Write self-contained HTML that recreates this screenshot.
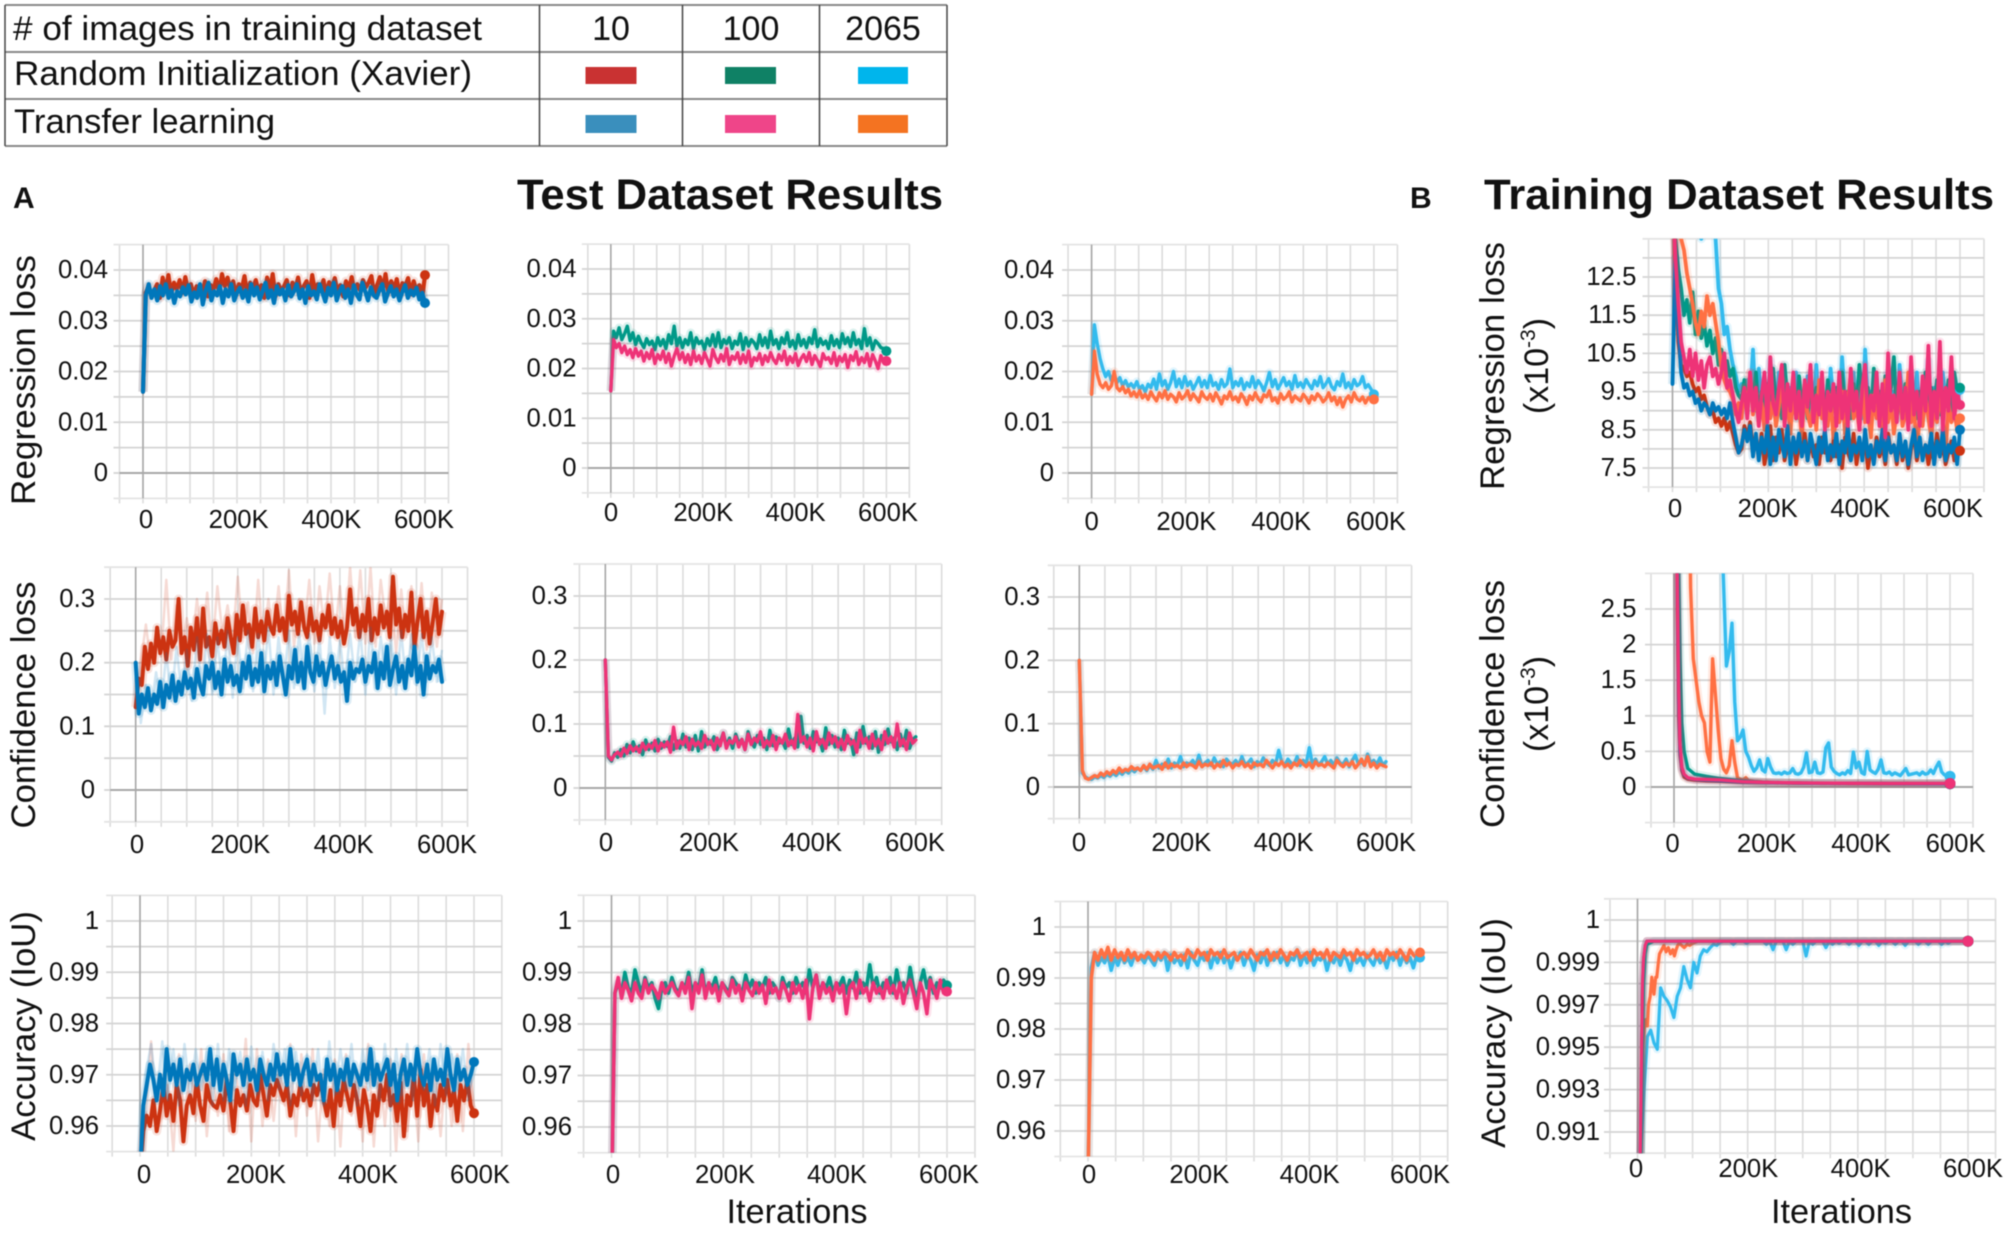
<!DOCTYPE html>
<html lang="en">
<head>
<meta charset="utf-8">
<title>Test and training dataset results</title>
<style>
  html, body { margin: 0; padding: 0; background: #fff; }
  #figure { display: block; width: 2008px; height: 1240px; font-family: "Liberation Sans", Arial, sans-serif; fill: #111; filter: blur(0.45px); }
  text { font-family: "Liberation Sans", Arial, sans-serif; }
</style>
</head>
<body>
<svg id="figure" xmlns="http://www.w3.org/2000/svg" width="2008" height="1240" viewBox="0 0 2008 1240">
  <rect width="2008" height="1240" fill="#fff"/>

  <g>
    <g stroke="#8a8a8a" stroke-width="2">
      <line x1="5" y1="5" x2="947" y2="5"/>
      <line x1="5" y1="52" x2="947" y2="52"/>
      <line x1="5" y1="99" x2="947" y2="99"/>
      <line x1="5" y1="146" x2="947" y2="146"/>
    </g>
    <g stroke="#444" stroke-width="1.5">
      <line x1="5" y1="5" x2="5" y2="146"/>
      <line x1="539.5" y1="5" x2="539.5" y2="146"/>
      <line x1="682.5" y1="5" x2="682.5" y2="146"/>
      <line x1="819.5" y1="5" x2="819.5" y2="146"/>
      <line x1="947" y1="5" x2="947" y2="146"/>
    </g>
    <text x="13" y="40" font-size="34.5" textLength="469" lengthAdjust="spacingAndGlyphs"># of images in training dataset</text>
    <text x="611" y="40" font-size="34" text-anchor="middle">10</text>
    <text x="751" y="40" font-size="34" text-anchor="middle">100</text>
    <text x="883" y="40" font-size="34" text-anchor="middle">2065</text>
    <text x="14" y="85" font-size="34.5" textLength="458" lengthAdjust="spacingAndGlyphs">Random Initialization (Xavier)</text>
    <text x="14" y="133" font-size="34.5" textLength="261" lengthAdjust="spacingAndGlyphs">Transfer learning</text>
    <rect x="585.5" y="67" width="51" height="17" fill="#c93232"/>
    <rect x="725" y="67" width="51" height="17" fill="#0f8165"/>
    <rect x="858" y="67" width="50" height="17" fill="#00b5ec"/>
    <rect x="585.5" y="115" width="51" height="18" fill="#3a8fbd"/>
    <rect x="725" y="115" width="51" height="18" fill="#ef4589"/>
    <rect x="858" y="115" width="50" height="18" fill="#f47321"/>
  </g>

  <text x="13" y="208" font-size="30" font-weight="bold">A</text>
  <text x="517" y="209" font-size="43" font-weight="bold" textLength="426" lengthAdjust="spacingAndGlyphs">Test Dataset Results</text>
  <text x="1410" y="208" font-size="30" font-weight="bold">B</text>
  <text x="1484" y="209" font-size="43" font-weight="bold" textLength="510" lengthAdjust="spacingAndGlyphs">Training Dataset Results</text>

  <text transform="rotate(-90 35 380)" x="35" y="380" font-size="34.5" text-anchor="middle" textLength="250" lengthAdjust="spacingAndGlyphs">Regression loss</text>
  <text transform="rotate(-90 35 705)" x="35" y="705" font-size="34.5" text-anchor="middle" textLength="247" lengthAdjust="spacingAndGlyphs">Confidence loss</text>
  <text transform="rotate(-90 35 1026)" x="35" y="1026" font-size="34" text-anchor="middle" textLength="230" lengthAdjust="spacingAndGlyphs">Accuracy (IoU)</text>

  <text transform="rotate(-90 1504 366)" x="1504" y="366" font-size="34.5" text-anchor="middle" textLength="248" lengthAdjust="spacingAndGlyphs">Regression loss</text>
  <text transform="rotate(-90 1548 366)" x="1548" y="366" font-size="34" text-anchor="middle">(x10<tspan font-size="21" dy="-13">-3</tspan><tspan dy="13">)</tspan></text>
  <text transform="rotate(-90 1504 704)" x="1504" y="704" font-size="34.5" text-anchor="middle" textLength="248" lengthAdjust="spacingAndGlyphs">Confidence loss</text>
  <text transform="rotate(-90 1548 704)" x="1548" y="704" font-size="34" text-anchor="middle">(x10<tspan font-size="21" dy="-13">-3</tspan><tspan dy="13">)</tspan></text>
  <text transform="rotate(-90 1505 1033)" x="1505" y="1033" font-size="34" text-anchor="middle" textLength="230" lengthAdjust="spacingAndGlyphs">Accuracy (IoU)</text>

  <text x="726.5" y="1223" font-size="34" textLength="141" lengthAdjust="spacingAndGlyphs">Iterations</text>
  <text x="1771" y="1223" font-size="34" textLength="141" lengthAdjust="spacingAndGlyphs">Iterations</text>

  <g id="panels"></g>
</svg>

<script>
// ---------- axis ticks ----------
const xTickValues = [0, 200000, 400000, 600000];
const xTickLabels = ["0", "200K", "400K", "600K"];
const regTicks = [0, 0.01, 0.02, 0.03, 0.04];
const regLabels = ["0", "0.01", "0.02", "0.03", "0.04"];
const confTicks = [0, 0.1, 0.2, 0.3];
const confLabels = ["0", "0.1", "0.2", "0.3"];
const accTicks = [0.96, 0.97, 0.98, 0.99, 1];
const accLabels = ["0.96", "0.97", "0.98", "0.99", "1"];
const trainRegTicks = [7.5, 8.5, 9.5, 10.5, 11.5, 12.5];
const trainRegLabels = ["7.5", "8.5", "9.5", "10.5", "11.5", "12.5"];
const trainConfTicks = [0, 0.5, 1, 1.5, 2, 2.5];
const trainConfLabels = ["0", "0.5", "1", "1.5", "2", "2.5"];
const trainAccTicks = [0.991, 0.993, 0.995, 0.997, 0.999, 1.001];
const trainAccLabels = ["0.991", "0.993", "0.995", "0.997", "0.999", "1"];

// ---------- iteration grids for unevenly sampled series (thousands of iterations) ----------
const confFastIters = [0,4,7,10,13,17,22,30,45,70,100,150,200,300,450,600];
const accFastIters = [0,5,7,9,11,14,17,30,600];
const accOrangeIters = [0,6,8,10,12,15,18,20,23,26,30,33,35,38,40,44,48,52,56,60,64,67,70,73,76,80,85,90,95,100,110,130,600];

// ---------- test: regression loss (x1e-4) ----------
const regTest10Xavier = [160,355,368,352,360,372,345,385,358,390,352,375,362,380,355,386,360,372,350,368,358,352,378,348,370,362,382,355,392,368,385,360,378,350,372,362,388,352,375,365,380,358,370,345,385,360,392,348,372,358,368,380,350,375,362,385,352,368,378,345,390,358,372,362,380,350,376,365,384,355,370,348,378,362,386,355,372,360,380,366,375,388,352,370,386,360,392,355,378,362,382,350,374,368,384,352,378,358,370,345,390];
const regTest10Transfer = [160,350,372,345,362,340,368,350,372,345,360,335,358,348,366,352,370,338,356,345,372,332,360,375,340,358,350,368,335,362,348,372,340,355,365,345,360,338,372,350,366,342,358,375,345,360,335,368,352,362,340,370,348,358,372,344,362,335,368,350,358,342,372,355,338,365,350,375,340,358,368,345,362,335,370,352,342,375,358,340,366,350,345,360,372,338,355,368,348,362,340,356,370,345,360,350,365,342,355,335];
const regTest100Xavier = [155,275,262,282,258,270,285,256,272,248,265,252,242,260,248,255,238,262,246,258,240,268,250,285,245,262,242,258,248,272,240,262,250,255,238,260,246,268,244,272,242,258,250,262,240,255,248,270,238,262,245,258,252,240,268,246,262,242,275,248,258,240,262,250,272,244,256,240,268,246,258,242,262,250,278,244,260,248,255,240,266,246,258,242,270,250,262,244,272,248,258,240,280,246,262,238,256,250,242,240,235];
const regTest100Transfer = [155,258,242,250,232,245,228,238,222,240,225,235,215,232,220,238,210,228,218,235,212,230,205,225,240,218,232,212,228,208,235,215,226,210,232,218,205,238,222,212,228,215,240,208,225,218,232,210,228,212,235,205,222,216,230,208,226,214,232,218,210,228,216,235,208,224,212,230,206,220,228,214,232,208,226,216,204,230,218,222,210,232,206,224,214,228,202,226,216,234,208,222,212,230,205,228,215,200,226,212,215];
const regTest2065Xavier = [155,292,255,225,205,190,200,182,195,178,188,172,182,170,176,168,180,165,172,160,175,168,185,165,195,172,182,165,178,200,170,185,168,190,172,180,165,176,188,170,182,168,192,172,178,165,184,170,176,205,168,180,172,186,165,178,170,190,168,182,174,162,178,198,170,184,166,176,188,172,180,165,192,170,178,168,184,174,166,182,172,190,168,176,186,170,164,180,172,195,168,178,166,184,172,176,190,168,174,165,155];
const regTest2065Transfer = [155,240,195,175,168,178,165,172,200,168,162,170,158,165,152,160,150,162,148,155,145,160,150,142,158,148,162,145,155,150,140,158,146,152,162,144,156,148,140,160,150,145,155,142,158,148,136,152,146,160,144,150,140,156,148,135,152,144,158,146,140,154,150,162,142,148,138,156,145,150,160,140,152,146,142,155,148,138,152,144,156,150,140,146,158,142,150,135,148,130,145,152,140,158,146,142,150,138,148,152,145];

// ---------- test: confidence loss (x1e-3) ----------
const confTest10Xavier = [130,175,165,225,190,230,200,255,215,240,205,250,225,235,300,215,240,195,255,220,270,205,285,225,240,210,262,230,250,225,270,240,215,275,235,290,245,260,225,285,240,265,235,280,255,245,290,250,270,235,305,260,280,245,295,255,240,285,250,265,235,275,255,290,245,270,240,265,230,255,315,260,285,240,275,250,300,235,270,245,290,255,280,240,335,260,285,240,275,250,310,225,265,300,240,280,230,265,300,245,280];
const confTest10XavierRaw = [130,200,260,195,250,210,330,205,290,215,270,225,300,225,310,220,320,245,290,235,335,240,295,215,330,230,300,240,320,235,345,225,300,250,330,230,320,250,340,240,320,235,350,240,345,230,350,225,330,265,320,215,315,240,320,225,325,220,310,225,300];
const confTest10Transfer = [200,120,150,130,160,125,150,135,170,130,165,145,180,140,170,150,185,160,175,145,190,165,150,195,175,200,160,185,150,205,170,195,165,180,155,200,175,210,165,190,170,215,155,195,175,200,165,210,180,150,195,175,220,170,200,160,225,185,170,210,180,200,165,190,210,175,195,170,185,140,200,175,190,185,205,170,195,185,215,160,200,175,225,165,190,210,170,195,160,205,180,225,170,195,150,210,175,195,185,205,170];
const confTest10TransferRaw = [200,105,165,125,185,130,215,140,225,150,220,140,240,155,245,150,240,150,250,145,240,160,250,155,245,165,255,150,240,165,250,160,245,170,245,155,240,120,240,160,235,165,245,170,250,150,255,160,240,175,240,150,250,160,245,165,245,170,240,170,220];
const confTest100Xavier = [200,48,42,55,48,60,50,68,55,72,58,66,52,75,60,70,58,76,62,72,65,80,60,74,62,84,64,78,60,82,58,88,64,76,68,80,60,72,86,66,78,62,84,70,76,60,88,72,64,82,68,78,60,90,66,80,70,74,62,92,68,78,64,112,70,82,62,88,72,76,58,94,68,82,64,78,60,90,70,76,52,86,64,96,70,80,62,88,56,82,68,92,72,78,60,84,66,90,62,76,80];
const confTest100Transfer = [200,50,44,52,56,50,62,54,66,58,64,56,70,60,68,62,74,58,70,64,72,56,95,62,74,68,80,60,76,66,72,62,82,68,74,60,78,66,86,62,74,70,80,64,76,60,84,68,78,72,88,64,74,66,82,60,78,70,84,66,74,62,115,72,80,64,78,58,88,68,76,62,86,70,80,64,76,60,82,68,74,56,90,70,78,62,84,66,76,60,88,70,80,64,100,66,76,60,86,70,75];
const confTest2065Xavier = [200,22,16,13,12,16,14,18,15,20,17,22,18,24,20,26,22,28,24,30,26,32,26,34,28,42,30,36,32,44,30,38,34,48,32,38,36,42,34,50,32,38,42,34,46,36,40,32,44,38,36,42,34,48,36,38,44,32,40,36,46,38,34,42,36,58,40,34,44,38,36,48,34,42,38,62,36,44,34,40,48,36,42,34,46,38,36,44,32,42,50,36,40,34,52,38,42,36,46,34,40];
const confTest2065Transfer = [200,26,14,12,15,18,16,22,18,24,20,26,22,30,24,28,26,32,28,30,26,34,28,36,30,32,34,28,38,30,36,32,34,30,38,32,36,34,30,40,32,36,34,38,30,36,32,42,34,38,30,36,34,40,32,36,30,38,34,36,32,42,36,30,38,34,40,32,36,30,38,34,42,36,32,38,30,40,34,36,32,38,34,30,42,36,32,38,34,40,30,36,44,34,48,32,38,30,36,34,32];

// ---------- test: accuracy (x1e-4) ----------
const accTest10Xavier = [9500,9590,9620,9600,9650,9590,9630,9680,9620,9660,9610,9680,9650,9570,9640,9660,9625,9690,9640,9610,9680,9650,9640,9635,9660,9630,9690,9650,9590,9670,9640,9660,9630,9680,9650,9640,9700,9660,9620,9680,9660,9690,9670,9650,9680,9620,9660,9640,9680,9650,9670,9640,9680,9660,9690,9650,9620,9670,9600,9680,9640,9690,9660,9630,9680,9650,9600,9670,9640,9590,9660,9620,9680,9650,9700,9640,9660,9610,9685,9580,9660,9640,9700,9620,9710,9640,9680,9600,9660,9630,9680,9650,9690,9640,9670,9610,9680,9650,9690,9640,9625];
const accTest10XavierRaw = [9550,9620,9765,9590,9620,9680,9550,9740,9590,9720,9610,9750,9580,9700,9620,9740,9590,9720,9640,9770,9570,9750,9600,9730,9610,9720,9640,9760,9580,9740,9620,9750,9570,9710,9600,9730,9560,9740,9620,9710,9570,9760,9560,9720,9600,9730,9550,9740,9590,9700,9570,9740,9620,9700,9580,9720,9600,9740,9590,9760,9625];
const accTest10Transfer = [9500,9640,9680,9720,9690,9650,9700,9660,9750,9690,9720,9680,9730,9670,9710,9690,9720,9680,9700,9720,9690,9750,9680,9730,9670,9720,9690,9650,9740,9700,9720,9680,9730,9690,9710,9670,9730,9700,9680,9720,9690,9740,9700,9720,9680,9750,9690,9720,9680,9710,9730,9680,9720,9690,9700,9650,9730,9690,9720,9670,9710,9690,9730,9680,9720,9700,9680,9720,9690,9750,9680,9720,9690,9710,9730,9680,9720,9650,9700,9730,9680,9720,9690,9750,9700,9680,9720,9670,9730,9690,9710,9680,9750,9700,9670,9730,9690,9710,9680,9700,9725];
const accTest10TransferRaw = [9550,9700,9760,9660,9765,9650,9750,9640,9760,9660,9750,9670,9745,9640,9760,9650,9750,9670,9745,9640,9755,9660,9745,9650,9760,9670,9750,9640,9745,9660,9740,9650,9750,9640,9765,9660,9750,9670,9760,9640,9750,9670,9745,9650,9760,9630,9750,9660,9760,9650,9745,9670,9750,9640,9760,9660,9740,9670,9750,9650,9725];
const accTest100Xavier = [9450,9860,9880,9860,9900,9870,9860,9905,9880,9860,9890,9870,9880,9850,9830,9870,9880,9860,9890,9870,9860,9880,9870,9900,9860,9880,9870,9905,9860,9880,9870,9890,9860,9880,9870,9860,9890,9880,9870,9860,9895,9870,9885,9860,9880,9870,9890,9860,9880,9870,9850,9890,9870,9880,9860,9890,9870,9880,9860,9905,9870,9895,9860,9880,9870,9890,9860,9880,9875,9890,9860,9885,9870,9900,9860,9880,9870,9915,9870,9890,9860,9880,9870,9890,9860,9905,9870,9880,9860,9910,9870,9850,9880,9905,9870,9890,9860,9880,9870,9885,9875];
const accTest100Transfer = [9450,9860,9890,9850,9880,9865,9845,9880,9860,9850,9885,9860,9875,9865,9850,9880,9860,9870,9880,9865,9855,9880,9860,9890,9830,9880,9860,9895,9850,9880,9860,9875,9845,9880,9865,9855,9885,9860,9875,9845,9880,9865,9855,9880,9860,9875,9840,9885,9860,9870,9850,9880,9865,9845,9880,9860,9875,9850,9885,9810,9870,9895,9850,9880,9860,9870,9845,9880,9860,9875,9820,9870,9880,9850,9885,9860,9870,9845,9880,9860,9870,9850,9885,9860,9875,9850,9880,9840,9870,9885,9860,9830,9880,9860,9820,9885,9870,9850,9885,9860,9863];
const accTest2065Xavier = [9500,9920,9950,9925,9940,9930,9945,9915,9940,9925,9945,9930,9940,9925,9945,9935,9940,9930,9945,9935,9925,9945,9935,9950,9915,9945,9930,9940,9925,9945,9920,9950,9935,9925,9945,9935,9950,9920,9945,9930,9950,9930,9945,9920,9940,9935,9950,9925,9945,9935,9915,9945,9930,9950,9925,9945,9935,9950,9930,9945,9925,9940,9935,9955,9925,9945,9930,9950,9925,9940,9935,9945,9915,9940,9930,9945,9925,9945,9935,9915,9945,9930,9940,9925,9945,9935,9925,9945,9930,9940,9920,9945,9935,9950,9925,9945,9930,9940,9920,9945,9940];
const accTest2065Transfer = [9500,9900,9950,9935,9955,9940,9960,9935,9955,9940,9950,9935,9955,9940,9950,9935,9945,9940,9950,9945,9935,9950,9940,9950,9945,9935,9950,9940,9945,9935,9955,9945,9940,9955,9945,9950,9935,9955,9945,9950,9940,9955,9940,9945,9950,9935,9945,9950,9940,9955,9945,9935,9950,9945,9955,9935,9950,9940,9955,9945,9935,9950,9945,9955,9940,9945,9950,9935,9955,9945,9950,9940,9955,9935,9950,9945,9940,9955,9945,9950,9935,9955,9945,9950,9940,9945,9955,9940,9950,9935,9955,9945,9950,9940,9955,9945,9935,9955,9945,9940,9950];

// ---------- training: regression loss (x1e-5) ----------
const regTrain10Xavier = [1600,1250,1080,1020,1010,990,1000,970,950,960,930,940,910,890,900,870,880,860,880,850,870,840,810,790,800,860,830,870,800,820,780,840,760,800,860,770,830,790,850,770,810,780,830,760,810,790,840,770,820,780,810,760,830,790,800,770,820,780,810,750,830,790,770,840,760,810,780,820,750,800,770,830,780,810,760,840,790,810,760,830,770,810,750,800,840,770,820,780,810,760,800,770,840,780,810,760,790,820,770,810,795];
const regTrain10Transfer = [970,1300,1120,1000,960,970,940,950,920,930,900,920,910,890,920,900,910,890,905,880,920,870,830,790,810,850,820,860,780,840,770,830,790,860,760,830,770,850,810,780,860,760,830,790,840,780,820,770,840,800,760,830,790,850,770,810,780,840,760,820,790,860,770,810,790,830,770,850,780,810,760,820,790,850,770,830,790,810,770,840,780,820,760,810,850,780,830,770,810,790,840,760,820,780,850,770,810,790,830,760,850];
const regTrain100Xavier = [1500,1350,1270,1220,1150,1190,1130,1210,1100,1160,1090,1130,1070,1110,1050,1090,1020,1060,1000,1030,990,1010,960,940,930,980,900,970,920,1000,880,950,910,970,890,1010,920,960,880,1020,930,900,960,880,990,920,950,880,1000,910,960,890,940,870,980,920,900,960,880,1000,910,950,880,970,900,1020,930,890,960,880,1010,920,950,880,990,910,960,1040,880,940,900,970,890,1000,920,880,950,900,1000,880,960,910,980,890,950,920,980,880,1000,950,960];
const regTrain100Transfer = [1500,1300,1180,1080,1040,1000,1060,990,1050,980,1030,960,1020,1040,990,1010,970,1000,1050,960,980,940,900,870,920,960,880,1000,900,960,860,940,1000,870,1040,920,890,960,1020,860,970,900,1000,880,950,860,980,910,1020,870,940,890,1000,850,950,900,970,860,1000,880,950,860,1010,900,950,850,960,1020,870,940,900,1000,860,970,830,1050,900,940,870,1000,880,960,850,1040,890,950,860,990,900,1070,860,950,880,1080,850,960,900,1040,880,950,915];
const regTrain2065Xavier = [1700,1800,1750,1500,1700,1600,1400,1700,1500,1750,1350,1700,1500,1450,1400,1350,1220,1180,1100,1120,1060,1020,990,950,970,920,980,940,1060,900,1010,930,970,910,1030,950,890,1000,930,970,900,960,920,1000,880,950,910,990,930,880,1020,900,960,920,880,1010,930,960,890,1040,920,950,890,1000,910,970,880,1060,920,950,900,990,870,960,920,1000,900,950,880,1020,930,960,890,970,920,1000,880,950,910,1030,900,960,870,940,1000,920,960,900,980,920,955];
const regTrain2065Transfer = [1500,1450,1400,1350,1320,1260,1220,1180,1130,1100,1160,1120,1200,1150,1180,1130,1080,1010,980,960,950,930,890,920,880,960,900,1000,890,940,870,920,850,960,880,930,860,910,980,870,920,840,950,880,910,830,960,890,860,930,850,980,880,910,860,940,820,900,870,950,840,920,1000,880,910,850,960,870,900,830,940,880,910,850,980,870,920,840,900,960,860,890,1000,870,910,780,900,860,940,880,830,910,870,950,880,790,920,870,900,850,880];

// ---------- training: confidence loss (x1e-6) ----------
const confTrain10Xavier = [8000,5000,2600,1000,450,230,140,110,95,85,80,65,60,52,48,46];
const confTrain10Transfer = [8000,5500,3000,1200,500,260,170,125,105,95,88,70,60,52,48,45];
const confTrain100Xavier = [8000,7000,5000,3000,1800,900,500,260,180,150,120,85,65,55,50,48];
const confTrain100Transfer = [8000,6000,3000,1400,600,280,180,130,110,105,100,75,65,55,50,50];
const confTrain2065Xavier = [8000,8000,8000,8000,8000,8000,8000,8000,8000,8000,8000,8000,8000,8000,8000,8000,8000,4000,2800,1700,1900,2300,1200,650,700,800,500,420,300,220,270,380,240,210,400,280,200,190,200,180,210,190,200,260,190,180,200,280,480,200,210,350,200,190,210,550,620,280,220,190,170,200,180,230,190,490,270,350,200,180,500,240,210,190,250,380,200,190,210,170,200,180,160,210,260,170,180,190,200,170,210,180,190,240,190,280,350,210,170,150,150];
const confTrain2065Transfer = [8000,8000,8000,8000,8000,6000,2800,1800,1500,1200,1000,900,500,350,1800,1300,800,400,250,200,300,650,350,130,110,100,130,90,85,80,78,75,70,68,70,65,62,60,62,58,60,58,60,56,55,58,55,54,55,52,54,52,55,50,52,50,54,50,52,50,48,52,50,48,50,48,50,48,52,50,48,50,48,50,46,48,50,48,46,48,50,46,48,46,50,48,46,48,46,48,50,46,48,46,48,46,48,46,48,46,48];

// ---------- training: accuracy (x1e-5) ----------
const accTrain10Xavier = [98700,98900,99300,99750,99900,99970,100000,100000,100000];
const accTrain10Transfer = [98700,98950,99350,99780,99910,99975,100000,100000,100000];
const accTrain100Xavier = [98600,98700,99100,99500,99800,99940,99985,100000,100000];
const accTrain100Transfer = [98700,99000,99400,99800,99920,99980,100000,100000,100000];
const accTrain2065Xavier = [98700,99000,99300,99550,99580,99520,99490,99780,99740,99720,99690,99640,99740,99780,99880,99820,99780,99900,99850,99930,99960,99950,99970,99985,99980,99995,100000,100000,100000,99985,100000,100000,100000,99990,100000,100000,100000,100000,100000,99985,100000,99960,100000,100000,100000,99960,100000,99985,100000,100000,100000,99930,100000,99985,100000,100000,100000,99970,100000,99985,100000,99990,100000,100000,99985,100000,100000,99980,100000,100000,99985,100000,100000,99980,100000,99990,100000,100000,99985,100000,100000,99980,100000,100000,100000,99985,100000,100000,99985,100000,100000,100000,99985,100000,99990,100000,100000,100000,100000,100000,100000];
const accTrain2065Transfer = [98700,99000,99300,99500,99580,99630,99600,99700,99740,99830,99750,99830,99830,99900,99940,99960,99980,99950,99970,99940,99960,99930,99960,99980,99990,99980,99970,99985,99980,99990,100000,100000,100000];

// ---------- colours ----------
const RED = "#cc3311", BLUE = "#0077bb", TEAL = "#009988", PINK = "#ee3377", CYAN = "#33bbee", ORANGE = "#ff7043";

// ---------- panels: layout anchors + references to the arrays above ----------
const panels = [
  { name: "test-regression-10", x0: 143, x600: 425, yA: 0, pA: 473, yB: 0.04, pB: 270, yMin: -0.005, yMax: 0.045, step: 0.005, ticks: regTicks, labels: regLabels, tickRight: 108, xBase: 528, lab0: 146, lab600: 424, width: 4.2, markerR: 5, zero: true,
    series: [ { name: "xavier-10", color: RED, unit: 1e-4, values: regTest10Xavier }, { name: "transfer-10", color: BLUE, unit: 1e-4, values: regTest10Transfer } ] },
  { name: "test-regression-100", x0: 610.8, x600: 886.4, yA: 0, pA: 468, yB: 0.04, pB: 269, yMin: -0.005, yMax: 0.045, step: 0.005, ticks: regTicks, labels: regLabels, tickRight: 576.5, xBase: 521, lab0: 611, lab600: 888, width: 3.4, markerR: 5, zero: true,
    series: [ { name: "xavier-100", color: TEAL, unit: 1e-4, values: regTest100Xavier }, { name: "transfer-100", color: PINK, unit: 1e-4, values: regTest100Transfer } ] },
  { name: "test-regression-2065", x0: 1091.6, x600: 1373.9, yA: 0, pA: 473, yB: 0.04, pB: 270, yMin: -0.005, yMax: 0.045, step: 0.005, ticks: regTicks, labels: regLabels, tickRight: 1054, xBase: 530, lab0: 1091.6, lab600: 1376, width: 3.4, markerR: 5, zero: true,
    series: [ { name: "xavier-2065", color: CYAN, unit: 1e-4, values: regTest2065Xavier }, { name: "transfer-2065", color: ORANGE, unit: 1e-4, values: regTest2065Transfer } ] },

  { name: "test-confidence-10", x0: 135.7, x600: 442, yA: 0, pA: 790, yB: 0.3, pB: 599, yMin: -0.05, yMax: 0.35, step: 0.05, ticks: confTicks, labels: confLabels, tickRight: 95, xBase: 853, lab0: 137, lab600: 447, width: 4, zero: true, noMarker: true,
    series: [ { name: "xavier-10", color: RED, unit: 1e-3, values: confTest10Xavier, raw: confTest10XavierRaw }, { name: "transfer-10", color: BLUE, unit: 1e-3, values: confTest10Transfer, raw: confTest10TransferRaw } ] },
  { name: "test-confidence-100", x0: 605.3, x600: 915.8, yA: 0, pA: 788, yB: 0.3, pB: 596, yMin: -0.05, yMax: 0.35, step: 0.05, ticks: confTicks, labels: confLabels, tickRight: 567.4, xBase: 851, lab0: 606, lab600: 915, width: 3.4, zero: true, noMarker: true,
    series: [ { name: "xavier-100", color: TEAL, unit: 1e-3, values: confTest100Xavier }, { name: "transfer-100", color: PINK, unit: 1e-3, values: confTest100Transfer } ] },
  { name: "test-confidence-2065", x0: 1079.3, x600: 1386, yA: 0, pA: 787, yB: 0.3, pB: 597, yMin: -0.05, yMax: 0.35, step: 0.05, ticks: confTicks, labels: confLabels, tickRight: 1040, xBase: 851, lab0: 1079, lab600: 1386, width: 3.4, zero: true, noMarker: true,
    series: [ { name: "xavier-2065", color: CYAN, unit: 1e-3, values: confTest2065Xavier }, { name: "transfer-2065", color: ORANGE, unit: 1e-3, values: confTest2065Transfer } ] },

  { name: "test-accuracy-10", x0: 140, x600: 474, yA: 1, pA: 921, yB: 0.96, pB: 1126, yMin: 0.955, yMax: 1.005, step: 0.005, ticks: accTicks, labels: accLabels, tickRight: 99, xBase: 1183, lab0: 144, lab600: 480, width: 4, markerR: 5, zero: false,
    series: [ { name: "xavier-10", color: RED, unit: 1e-4, values: accTest10Xavier, raw: accTest10XavierRaw }, { name: "transfer-10", color: BLUE, unit: 1e-4, values: accTest10Transfer, raw: accTest10TransferRaw } ] },
  { name: "test-accuracy-100", x0: 611.5, x600: 947, yA: 1, pA: 921, yB: 0.96, pB: 1127, yMin: 0.955, yMax: 1.005, step: 0.005, ticks: accTicks, labels: accLabels, tickRight: 572, xBase: 1183, lab0: 613, lab600: 949, width: 3.6, markerR: 5, zero: false,
    series: [ { name: "xavier-100", color: TEAL, unit: 1e-4, values: accTest100Xavier }, { name: "transfer-100", color: PINK, unit: 1e-4, values: accTest100Transfer } ] },
  { name: "test-accuracy-2065", x0: 1088, x600: 1420, yA: 1, pA: 927, yB: 0.96, pB: 1131, yMin: 0.955, yMax: 1.005, step: 0.005, ticks: accTicks, labels: accLabels, tickRight: 1046, xBase: 1183, lab0: 1089, lab600: 1420, width: 3.6, markerR: 5, zero: false,
    series: [ { name: "xavier-2065", color: CYAN, unit: 1e-4, values: accTest2065Xavier }, { name: "transfer-2065", color: ORANGE, unit: 1e-4, values: accTest2065Transfer } ] },

  { name: "train-regression", x0: 1672.5, x600: 1960, yA: 12.5, pA: 277, yB: 7.5, pB: 468, yMin: 7, yMax: 13.5, step: 0.5, ticks: trainRegTicks, labels: trainRegLabels, tickRight: 1636.4, xBase: 517, lab0: 1675, lab600: 1953, width: 3.8, markerR: 5, zero: false,
    series: [
      { name: "xavier-2065", color: CYAN, unit: 0.01, values: regTrain2065Xavier },
      { name: "xavier-100", color: TEAL, unit: 0.01, values: regTrain100Xavier },
      { name: "transfer-2065", color: ORANGE, unit: 0.01, values: regTrain2065Transfer },
      { name: "xavier-10", color: RED, unit: 0.01, values: regTrain10Xavier },
      { name: "transfer-10", color: BLUE, unit: 0.01, values: regTrain10Transfer },
      { name: "transfer-100", color: PINK, unit: 0.01, values: regTrain100Transfer } ] },
  { name: "train-confidence", x0: 1674, x600: 1950, yA: 0, pA: 787, yB: 2.5, pB: 609, yMin: -0.5, yMax: 3, step: 0.5, ticks: trainConfTicks, labels: trainConfLabels, tickRight: 1636.4, xBase: 852, lab0: 1672.5, lab600: 1955.6, width: 3.4, markerR: 5.5, zero: true,
    series: [
      { name: "xavier-2065", color: CYAN, unit: 1e-3, values: confTrain2065Xavier },
      { name: "transfer-2065", color: ORANGE, unit: 1e-3, values: confTrain2065Transfer },
      { name: "xavier-100", color: TEAL, unit: 1e-3, values: confTrain100Xavier, iters: confFastIters },
      { name: "xavier-10", color: RED, unit: 1e-3, values: confTrain10Xavier, iters: confFastIters },
      { name: "transfer-10", color: BLUE, unit: 1e-3, values: confTrain10Transfer, iters: confFastIters },
      { name: "transfer-100", color: PINK, unit: 1e-3, values: confTrain100Transfer, iters: confFastIters } ] },
  { name: "train-accuracy", x0: 1637.5, x600: 1968, yA: 1.001, pA: 920, yB: 0.991, pB: 1132, yMin: 0.99, yMax: 1.002, step: 0.001, ticks: trainAccTicks, labels: trainAccLabels, tickRight: 1600, xBase: 1177, lab0: 1636, lab600: 1973, width: 3.2, markerR: 5.5, zero: false,
    series: [
      { name: "xavier-2065", color: CYAN, unit: 1e-5, values: accTrain2065Xavier },
      { name: "transfer-2065", color: ORANGE, unit: 1e-5, values: accTrain2065Transfer, iters: accOrangeIters },
      { name: "xavier-10", color: RED, unit: 1e-5, values: accTrain10Xavier, iters: accFastIters },
      { name: "transfer-10", color: BLUE, unit: 1e-5, values: accTrain10Transfer, iters: accFastIters },
      { name: "xavier-100", color: TEAL, unit: 1e-5, values: accTrain100Xavier, iters: accFastIters },
      { name: "transfer-100", color: PINK, unit: 1e-5, values: accTrain100Transfer, iters: accFastIters } ] }
];

const NS = "http://www.w3.org/2000/svg";
const root = document.getElementById("panels");

function make(tag, attrs, parent) {
  const el = document.createElementNS(NS, tag);
  for (const k in attrs) el.setAttribute(k, attrs[k]);
  parent.appendChild(el);
  return el;
}

function linePath(xs, ys) {
  let d = "";
  for (let i = 0; i < xs.length; i++) d += (i ? "L" : "M") + xs[i].toFixed(1) + " " + ys[i].toFixed(1);
  return d;
}

panels.forEach(function (p, pi) {
  const xScale = function (v) { return p.x0 + (v / 600000) * (p.x600 - p.x0); };
  const yScale = function (v) { return p.pA + (v - p.yA) / (p.yB - p.yA) * (p.pB - p.pA); };
  const left = xScale(-50000), right = xScale(650000), top = yScale(p.yMax), bottom = yScale(p.yMin);

  const g = make("g", {}, root);
  
  

  const clip = make("clipPath", { id: "clip" + pi }, g);
  make("rect", { x: left, y: top, width: right - left, height: bottom - top }, clip);

  // vertical grid, every 50K
  const gridV = make("g", { stroke: "#dcdcdc", "stroke-width": 1.6 }, g);
  
  
  for (let k = -1; k <= 13; k++) {
    const x = xScale(k * 50000);
    make("line", { x1: x, x2: x, y1: top, y2: bottom + 5 }, gridV);
  }

  // horizontal grid
  const gridH = make("g", { stroke: "#d4d4d4", "stroke-width": 1.8 }, g);
  
  
  const nSteps = Math.round((p.yMax - p.yMin) / p.step);
  for (let k = 0; k <= nSteps; k++) {
    const y = yScale(p.yMin + k * p.step);
    make("line", { x1: left - 6, x2: right, y1: y, y2: y, stroke: (k === 0 || k === nSteps) ? "#e4e4e4" : "#d4d4d4" }, gridH);
  }

  // axis lines at zero
  const axisV = make("line", { x1: p.x0, x2: p.x0, y1: top, y2: bottom, stroke: "#a8a8a8", "stroke-width": 1.6 }, g);
  
  
  if (p.zero) {
    const axisH = make("line", { x1: left, x2: right, y1: yScale(0), y2: yScale(0), stroke: "#a8a8a8", "stroke-width": 2 }, g);
    
    
  }

  // y tick labels
  p.ticks.forEach(function (t, i) {
    const el = make("text", { x: p.tickRight, y: yScale(t) + 8, "font-size": 25.7, "text-anchor": "end" }, g);
    el.textContent = p.labels[i];
    
    
  });

  // x tick labels
  xTickValues.forEach(function (t, i) {
    const lx = p.lab0 + (t / 600000) * (p.lab600 - p.lab0);
    const el = make("text", { x: lx, y: p.xBase, "font-size": 25.7, "text-anchor": "middle" }, g);
    el.textContent = xTickLabels[i];
    
    
  });

  // series
  const clipped = make("g", { "clip-path": "url(#clip" + pi + ")" }, g);
  
  

  p.series.forEach(function (s) {
    const n = s.values.length;
    const xs = s.values.map(function (_, i) {
      return xScale(s.iters ? s.iters[i] * 1000 : (i / (n - 1)) * 600000);
    });
    const ys = s.values.map(function (v) { return yScale(v * s.unit); });

    if (s.raw) {
      const rn = s.raw.length;
      const rx = s.raw.map(function (_, i) { return xScale((i / (rn - 1)) * 600000); });
      const ry = s.raw.map(function (v) { return yScale(v * s.unit); });
      const pale = make("path", { d: linePath(rx, ry), fill: "none", stroke: s.color, "stroke-width": 2.5, "stroke-opacity": 0.18, "stroke-linejoin": "round" }, clipped);
      
      
    }

    const halo = make("path", { d: linePath(xs, ys), fill: "none", stroke: s.color, "stroke-width": p.width + 5, "stroke-opacity": 0.14, "stroke-linejoin": "round" }, clipped);
    
    

    const line = make("path", { d: linePath(xs, ys), fill: "none", stroke: s.color, "stroke-width": p.width, "stroke-linejoin": "round", "stroke-linecap": "round" }, clipped);
    
    
  });

  if (!p.noMarker) {
    p.series.forEach(function (s) {
      const n = s.values.length;
      const lastIter = s.iters ? s.iters[n - 1] * 1000 : 600000;
      const dot = make("circle", { cx: xScale(lastIter), cy: yScale(s.values[n - 1] * s.unit), r: p.markerR, fill: s.color }, clipped);
      
      
    });
  }
});
</script>
</body>
</html>
